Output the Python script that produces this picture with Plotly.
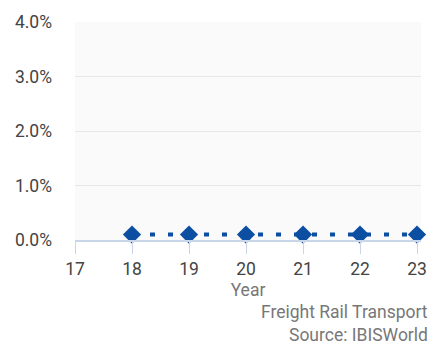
import plotly.graph_objects as go

years = [18, 19, 20, 21, 22, 23]
values = [0.1, 0.1, 0.1, 0.1, 0.1, 0.1]
x_ticks = [17, 18, 19, 20, 21, 22, 23]
y_ticks = [0, 1, 2, 3, 4]
y_labels = ["0.0%", "1.0%", "2.0%", "3.0%", "4.0%"]

fig = go.Figure()
fig.add_trace(go.Scatter(
    x=years, y=values, mode="lines+markers",
    line=dict(color="#0b4ea2", width=4, dash="5px,13px"),
    marker=dict(symbol="diamond", size=14, color="#0b4ea2"),
    cliponaxis=False, showlegend=False,
))

fig.update_layout(
    width=442, height=344,
    margin=dict(l=75, r=21, t=16, b=104),
    paper_bgcolor="white", plot_bgcolor="#fafafa",
    font=dict(family="Roboto", size=17.5, color="#444"),
    xaxis=dict(
        range=[17, 23.07], tickvals=x_ticks, ticktext=[str(v) for v in x_ticks],
        showgrid=False, zeroline=False, showline=True, linecolor="#c9d6ea", linewidth=2,
        ticks="outside", ticklen=12, tickcolor="#c9d6ea", tickwidth=1,
        title=dict(text="Year", font=dict(color="#777", size=17.5), standoff=6),
    ),
    yaxis=dict(
        range=[0, 4], tickvals=y_ticks, ticktext=y_labels,
        showgrid=True, gridcolor="#e8e8e8", zeroline=False,
        ticks="", ticklabelstandoff=22,
    ),
    annotations=[
        dict(text="Freight Rail Transport", xref="paper", yref="paper", x=1.025, y=-0.33,
             xanchor="right", yanchor="middle", showarrow=False, font=dict(color="#777", size=17.5)),
        dict(text="Source: IBISWorld", xref="paper", yref="paper", x=1.025, y=-0.435,
             xanchor="right", yanchor="middle", showarrow=False, font=dict(color="#777", size=17.5)),
    ],
)

fig.write_html("out.html")
